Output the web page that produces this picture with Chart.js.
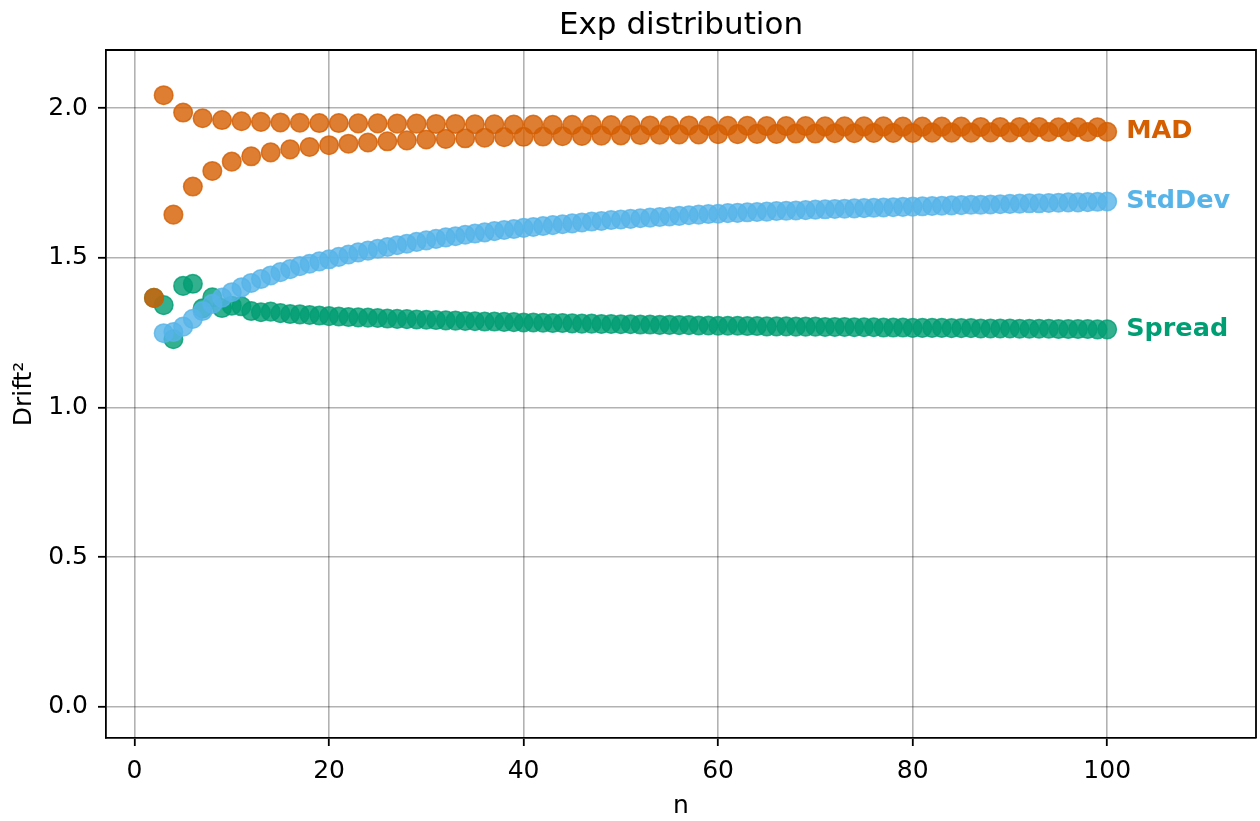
<!DOCTYPE html>
<html lang="en">
<head>
    <meta charset="UTF-8">
    <title>Exp distribution</title>
    <script src="https://cdn.jsdelivr.net/npm/chart.js@4.4.0/dist/chart.umd.min.js"></script>
    <style>
        body { margin: 0; background: #ffffff; }
        .wrap { width: 1260px; height: 821px; }
    </style>
</head>
<body>
    <div class="wrap">
        <canvas id="drift" width="1260" height="821"></canvas>
    </div>

    <script>
        // sample sizes n = 2 .. 100
        const nValues = Array.from({ length: 99 }, (_, i) => i + 2);

        // n = 2..100, ten per row
        const madValues = [
            1.366, 2.043, 1.644, 1.985, 1.738, 1.966, 1.790, 1.960, 1.821, 1.956,
            1.839, 1.954, 1.852, 1.952, 1.862, 1.951, 1.870, 1.950, 1.876, 1.950,
            1.881, 1.949, 1.885, 1.949, 1.889, 1.948, 1.892, 1.948, 1.895, 1.947,
            1.897, 1.947, 1.899, 1.946, 1.901, 1.946, 1.903, 1.945, 1.904, 1.945,
            1.905, 1.944, 1.906, 1.944, 1.907, 1.944, 1.908, 1.943, 1.909, 1.943,
            1.910, 1.942, 1.911, 1.942, 1.912, 1.942, 1.912, 1.941, 1.913, 1.941,
            1.913, 1.941, 1.914, 1.940, 1.914, 1.940, 1.915, 1.940, 1.915, 1.939,
            1.916, 1.939, 1.916, 1.939, 1.917, 1.939, 1.917, 1.938, 1.917, 1.938,
            1.918, 1.938, 1.918, 1.938, 1.918, 1.937, 1.919, 1.937, 1.919, 1.937,
            1.919, 1.937, 1.920, 1.936, 1.920, 1.936, 1.920, 1.936, 1.921
        ];

        const stdDevValues = [
            null,  1.248, 1.252, 1.270, 1.296, 1.322, 1.346, 1.367, 1.385, 1.401,
            1.416, 1.429, 1.441, 1.452, 1.462, 1.472, 1.480, 1.488, 1.495, 1.503,
            1.511, 1.518, 1.524, 1.530, 1.536, 1.542, 1.547, 1.553, 1.558, 1.563,
            1.568, 1.572, 1.577, 1.581, 1.585, 1.589, 1.593, 1.596, 1.600, 1.603,
            1.606, 1.609, 1.612, 1.615, 1.618, 1.621, 1.623, 1.626, 1.628, 1.630,
            1.632, 1.634, 1.636, 1.638, 1.640, 1.642, 1.644, 1.646, 1.647, 1.649,
            1.650, 1.652, 1.653, 1.654, 1.656, 1.657, 1.658, 1.659, 1.661, 1.662,
            1.663, 1.664, 1.665, 1.666, 1.667, 1.668, 1.669, 1.670, 1.671, 1.672,
            1.673, 1.674, 1.675, 1.676, 1.677, 1.677, 1.678, 1.679, 1.680, 1.681,
            1.682, 1.682, 1.683, 1.684, 1.685, 1.685, 1.686, 1.687, 1.688
        ];

        const spreadValues = [
            1.366, 1.342, 1.228, 1.406, 1.413, 1.331, 1.368, 1.332, 1.340, 1.338,
            1.322, 1.318, 1.320, 1.315, 1.312, 1.311, 1.309, 1.307, 1.305, 1.304,
            1.302, 1.301, 1.300, 1.299, 1.297, 1.296, 1.295, 1.294, 1.293, 1.292,
            1.291, 1.290, 1.289, 1.288, 1.287, 1.287, 1.286, 1.285, 1.284, 1.284,
            1.283, 1.282, 1.282, 1.281, 1.280, 1.280, 1.279, 1.279, 1.278, 1.278,
            1.277, 1.277, 1.276, 1.276, 1.275, 1.275, 1.274, 1.274, 1.273, 1.273,
            1.273, 1.272, 1.272, 1.271, 1.271, 1.271, 1.270, 1.270, 1.270, 1.269,
            1.269, 1.269, 1.268, 1.268, 1.268, 1.267, 1.267, 1.267, 1.266, 1.266,
            1.266, 1.266, 1.265, 1.265, 1.265, 1.264, 1.264, 1.264, 1.264, 1.263,
            1.263, 1.263, 1.263, 1.262, 1.262, 1.262, 1.262, 1.261, 1.261
        ];

        const xTicks = [0, 20, 40, 60, 80, 100];
        const yTicks = [0.0, 0.5, 1.0, 1.5, 2.0];

        const series = [
            { name: 'MAD', values: madValues, color: '213, 94, 0' },
            { name: 'StdDev', values: stdDevValues, color: '86, 180, 233' },
            { name: 'Spread', values: spreadValues, color: '0, 158, 115' }
        ];

        const FONT = "'DejaVu Sans', sans-serif";

        function toPoints(values) {
            return nValues.map((n, i) => ({ x: n, y: values[i] }))
                .filter(p => p.y !== null);
        }

        // title over the plot area, frame on top/right, names next to last points
        const decorations = {
            id: 'decorations',
            afterDraw(chart) {
                const ctx = chart.ctx;
                const area = chart.chartArea;
                ctx.save();

                ctx.strokeStyle = '#000000';
                ctx.lineWidth = 1.8;
                ctx.beginPath();
                ctx.moveTo(area.left, area.top);
                ctx.lineTo(area.right, area.top);
                ctx.lineTo(area.right, area.bottom);
                ctx.stroke();

                ctx.fillStyle = '#000000';
                ctx.font = '31px ' + FONT;
                ctx.textAlign = 'center';
                ctx.textBaseline = 'middle';
                ctx.fillText('Exp distribution', (area.left + area.right) / 2, 26);

                ctx.font = 'bold 25.5px ' + FONT;
                ctx.textAlign = 'left';
                chart.data.datasets.forEach((ds, i) => {
                    const pts = chart.getDatasetMeta(i).data;
                    const last = pts[pts.length - 1];
                    ctx.fillStyle = 'rgb(' + series[i].color + ')';
                    ctx.fillText(ds.label, last.x + 19, last.y);
                });
                ctx.restore();
            }
        };

        const gridStyle = {
            color: 'rgba(0, 0, 0, 0.3)',
            lineWidth: 1.6,
            tickColor: '#000000',
            tickLength: 8,
            tickWidth: 1.8
        };

        new Chart(document.getElementById('drift'), {
            type: 'scatter',
            data: {
                datasets: series.map(s => ({
                    label: s.name,
                    data: toPoints(s.values),
                    pointRadius: 9.3,
                    pointHoverRadius: 9.3,
                    pointBorderWidth: 1.5,
                    pointBackgroundColor: 'rgba(' + s.color + ', 0.8)',
                    pointBorderColor: 'rgba(' + s.color + ', 0.8)'
                }))
            },
            options: {
                responsive: false,
                animation: false,
                layout: {
                    autoPadding: false,
                    padding: { top: 50, right: 4, left: 0, bottom: 0 }
                },
                plugins: {
                    legend: { display: false },
                    title: { display: false },
                    tooltip: { enabled: false }
                },
                scales: {
                    x: {
                        type: 'linear',
                        min: -2.93,
                        max: 115.3,
                        afterBuildTicks: axis => { axis.ticks = xTicks.map(v => ({ value: v })); },
                        afterFit: scale => {
                            scale.height = 83;
                            scale.paddingLeft = 0;
                            scale.paddingRight = 0;
                        },
                        grid: gridStyle,
                        border: { color: '#000000', width: 1.8 },
                        ticks: {
                            color: '#000000',
                            padding: 10,
                            maxRotation: 0,
                            font: { family: FONT, size: 25 }
                        },
                        title: {
                            display: true,
                            text: 'n',
                            color: '#000000',
                            padding: { top: 0, bottom: 0 },
                            font: { family: FONT, size: 25 }
                        }
                    },
                    y: {
                        type: 'linear',
                        min: -0.104,
                        max: 2.194,
                        afterBuildTicks: axis => { axis.ticks = yTicks.map(v => ({ value: v })); },
                        afterFit: scale => { scale.width = 106; },
                        grid: gridStyle,
                        border: { color: '#000000', width: 1.8 },
                        ticks: {
                            color: '#000000',
                            padding: 10,
                            font: { family: FONT, size: 25 },
                            callback: v => v.toFixed(1)
                        },
                        title: {
                            display: true,
                            text: 'Drift²',
                            color: '#000000',
                            padding: { top: 9, bottom: 0 },
                            font: { family: FONT, size: 25 }
                        }
                    }
                }
            },
            plugins: [decorations]
        });
    </script>
</body>
</html>
